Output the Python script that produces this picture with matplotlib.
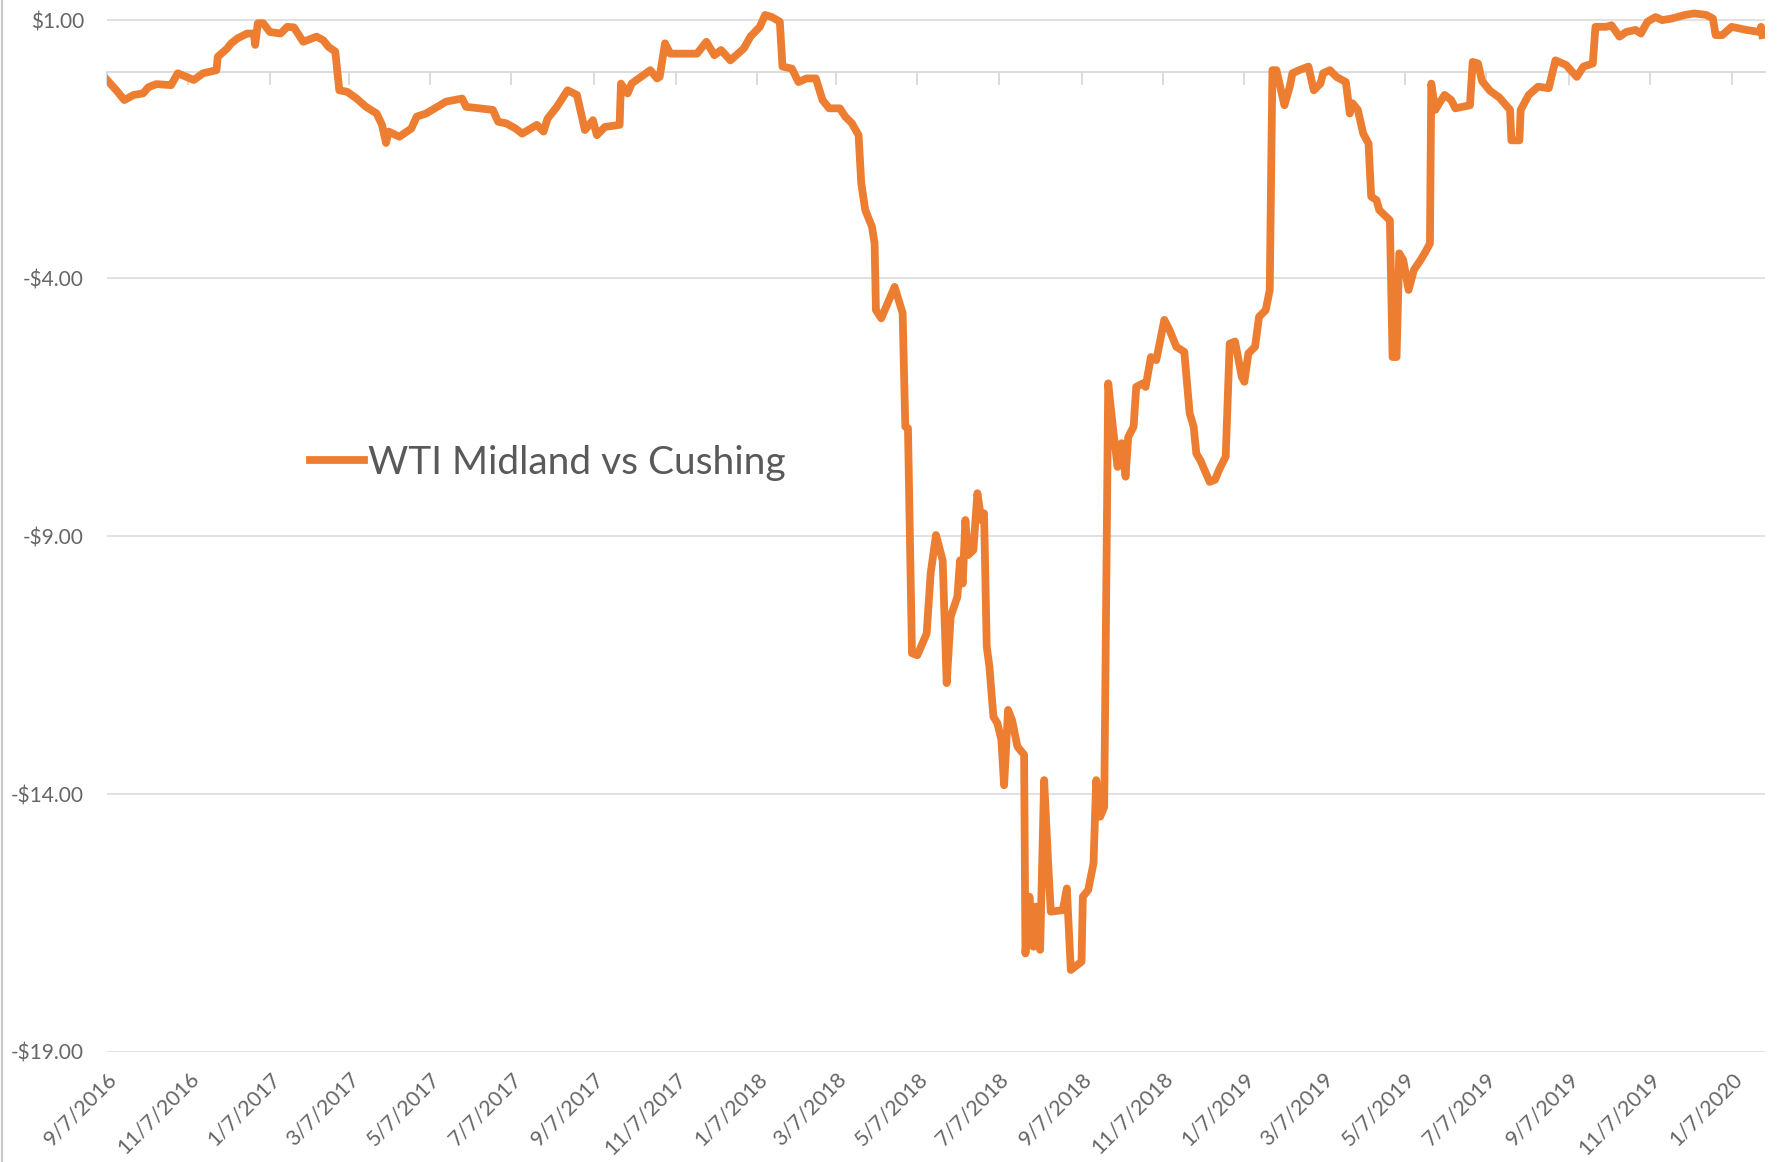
import matplotlib
matplotlib.use("Agg")
import matplotlib.pyplot as plt
from matplotlib.lines import Line2D
import pandas as pd

# WTI Midland vs Cushing spread (days since 9/7/2016, $/bbl)
start_date = "2016-09-07"
day_offsets = [
    0, 7, 13, 20, 27, 31, 37, 48, 53, 65, 72, 82, 83, 90, 93, 98, 105, 110, 111, 113,
    117, 122, 130, 135, 140, 147, 157, 162, 166, 171, 174, 180, 187, 194, 202, 206, 209, 211, 219, 228,
    232, 239, 254, 266, 269, 279, 289, 293, 299, 306, 311, 322, 327, 330, 337, 345, 352, 358, 364, 367,
    373, 384, 385, 390, 393, 407, 412, 414, 418, 422, 442, 449, 455, 460, 467, 477, 482, 489, 493, 498,
    504, 506, 513, 518, 524, 531, 536, 541, 549, 553, 558, 563, 565, 568, 573, 575, 576, 580, 590, 596,
    598, 600, 603, 607, 614, 617, 621, 626, 629, 632, 637, 639, 641, 643, 645, 649, 652, 655, 657, 659,
    661, 664, 667, 670, 672, 675, 678, 682, 687, 688, 691, 694, 696, 699, 702, 705, 707, 716, 719, 722,
    730, 731, 735, 739, 741, 744, 747, 750, 754, 757, 760, 763, 765, 769, 771, 776, 778, 782, 786, 789,
    792, 796, 801, 807, 811, 814, 816, 819, 826, 830, 833, 838, 841, 845, 850, 852, 855, 860, 863, 868,
    871, 873, 876, 880, 882, 886, 888, 893, 900, 904, 909, 911, 916, 921, 928, 931, 933, 937, 941, 945,
    947, 951, 953, 961, 963, 966, 968, 971, 975, 979, 984, 987, 991, 992, 995, 998, 1002, 1007, 1010, 1021,
    1023, 1027, 1030, 1036, 1043, 1051, 1052, 1058, 1059, 1065, 1072, 1080, 1085, 1093, 1101, 1106, 1113, 1115, 1123, 1127,
    1133, 1138, 1145, 1149, 1154, 1160, 1165, 1172, 1182, 1189, 1198, 1203, 1205, 1210, 1217, 1228, 1238, 1239, 1240,
]
spread = [
    -0.16, -0.36, -0.55, -0.45, -0.42, -0.30, -0.24, -0.26, -0.03, -0.16, -0.03, 0.03, 0.29, 0.45, 0.55, 0.65, 0.74, 0.74, 0.52, 0.94,
    0.94, 0.77, 0.74, 0.87, 0.86, 0.58, 0.68, 0.61, 0.48, 0.39, -0.36, -0.39, -0.52, -0.68, -0.81, -1.03, -1.38, -1.16, -1.26, -1.10,
    -0.87, -0.81, -0.58, -0.52, -0.68, -0.71, -0.74, -0.97, -1.00, -1.10, -1.20, -1.03, -1.16, -0.91, -0.68, -0.36, -0.45, -1.13, -0.94, -1.23,
    -1.07, -1.03, -0.23, -0.42, -0.23, 0.03, -0.13, -0.10, 0.55, 0.35, 0.35, 0.58, 0.32, 0.42, 0.22, 0.45, 0.68, 0.87, 1.10, 1.06,
    0.97, 0.10, 0.06, -0.20, -0.13, -0.13, -0.55, -0.71, -0.71, -0.87, -1.00, -1.23, -2.16, -2.68, -3.00, -3.33, -4.62, -4.78, -4.17, -4.68,
    -6.88, -6.91, -11.27, -11.31, -10.89, -9.72, -8.98, -9.47, -11.85, -10.56, -10.18, -9.47, -9.92, -8.69, -9.37, -9.27, -8.17, -8.69, -8.56, -11.14,
    -11.53, -12.50, -12.63, -12.95, -13.83, -12.37, -12.57, -13.08, -13.24, -17.09, -15.99, -16.96, -16.18, -17.02, -13.73, -15.34, -16.28, -16.25, -15.83, -17.41,
    -17.25, -15.99, -15.86, -15.34, -13.73, -14.44, -14.25, -6.04, -7.01, -7.66, -7.20, -7.85, -7.08, -6.88, -6.11, -6.04, -6.11, -5.53, -5.59, -5.20,
    -4.81, -5.01, -5.33, -5.43, -6.62, -6.88, -7.40, -7.53, -7.95, -7.91, -7.72, -7.46, -5.27, -5.23, -5.91, -6.01, -5.46, -5.33, -4.75, -4.62,
    -4.23, 0.03, 0.03, -0.42, -0.65, -0.29, -0.03, 0.03, 0.10, -0.36, -0.23, -0.03, 0.03, -0.10, -0.20, -0.81, -0.61, -0.74, -1.20, -1.39,
    -2.42, -2.49, -2.68, -2.88, -5.53, -5.53, -3.52, -3.65, -4.23, -3.84, -3.65, -3.52, -3.33, -0.23, -0.74, -0.61, -0.45, -0.55, -0.71, -0.65,
    0.19, 0.16, -0.18, -0.37, -0.50, -0.74, -1.33, -1.33, -0.74, -0.45, -0.29, -0.32, 0.22, 0.13, -0.10, 0.10, 0.16, 0.87, 0.87, 0.90,
    0.68, 0.77, 0.81, 0.74, 0.97, 1.06, 1.00, 1.03, 1.10, 1.13, 1.10, 1.03, 0.71, 0.71, 0.87, 0.81, 0.77, 0.87, 0.71,
]
y_ticks = [1, -4, -9, -14, -19]
series_label = "WTI Midland vs Cushing"

ORANGE = "#ED7D31"
GREY_TXT = "#666666"
GRID = "#D9D9D9"

plt.rcParams["font.family"] = ["Lato", "DejaVu Sans"]

t0 = pd.Timestamp(start_date)
dates = t0 + pd.to_timedelta(day_offsets, unit="D")
tick_dates = pd.date_range(t0, "2020-01-07", freq=pd.DateOffset(months=2))
tick_labels = [f"{d.month}/{d.day}/{d.year}" for d in tick_dates]

fig = plt.figure(figsize=(17.81, 11.62), dpi=100)
ax = fig.add_axes((107 / 1781, 110 / 1162, 1658 / 1781, 1052 / 1162))

ax.plot(dates, spread, color=ORANGE, lw=5.6, solid_joinstyle="round", label=series_label, zorder=3)

ax.set_xlim(t0, t0 + pd.Timedelta(days=1242))
ax.set_ylim(-19, 1.39)

ax.set_yticks(y_ticks)
ax.set_yticklabels([f"${v:.2f}" if v >= 0 else f"-${-v:.2f}" for v in y_ticks])
ax.yaxis.grid(True, color=GRID, lw=1.1)
ax.set_axisbelow(True)

# horizontal axis sits on $0 with short ticks pointing down; labels stay at the bottom
for s in ("left", "right", "bottom"):
    ax.spines[s].set_visible(False)
ax.spines["top"].set_position(("data", 0))
ax.spines["top"].set_color(GRID)
ax.spines["top"].set_linewidth(1.3)
ax.tick_params(axis="x", top=True, bottom=False, labeltop=False, labelbottom=True,
               direction="in", length=9, width=1.3, color=GRID, pad=12,
               labelsize=15.5, labelcolor=GREY_TXT)
ax.tick_params(axis="y", length=0, pad=16.5, labelsize=15, labelcolor=GREY_TXT)

ax.set_xticks(tick_dates)
ax.set_xticklabels(tick_labels)
for lbl in ax.get_xticklabels():
    lbl.set_rotation(45)
    lbl.set_ha("right")
    lbl.set_va("top")
    lbl.set_rotation_mode("anchor")

leg = fig.legend(loc="center left", bbox_to_anchor=(310 / 1781, 1 - 463 / 1162),
                 frameon=False, fontsize=28, handlelength=1.4, handletextpad=0.1,
                 borderpad=0, borderaxespad=0)
for txt in leg.get_texts():
    txt.set_color("#595959")

# thin chart border on the left edge
fig.add_artist(Line2D([0.0012, 0.0012], [0, 1], transform=fig.transFigure, color="#C8C8C8", lw=1.5))

fig.savefig("out.png", dpi=100, facecolor="white")
